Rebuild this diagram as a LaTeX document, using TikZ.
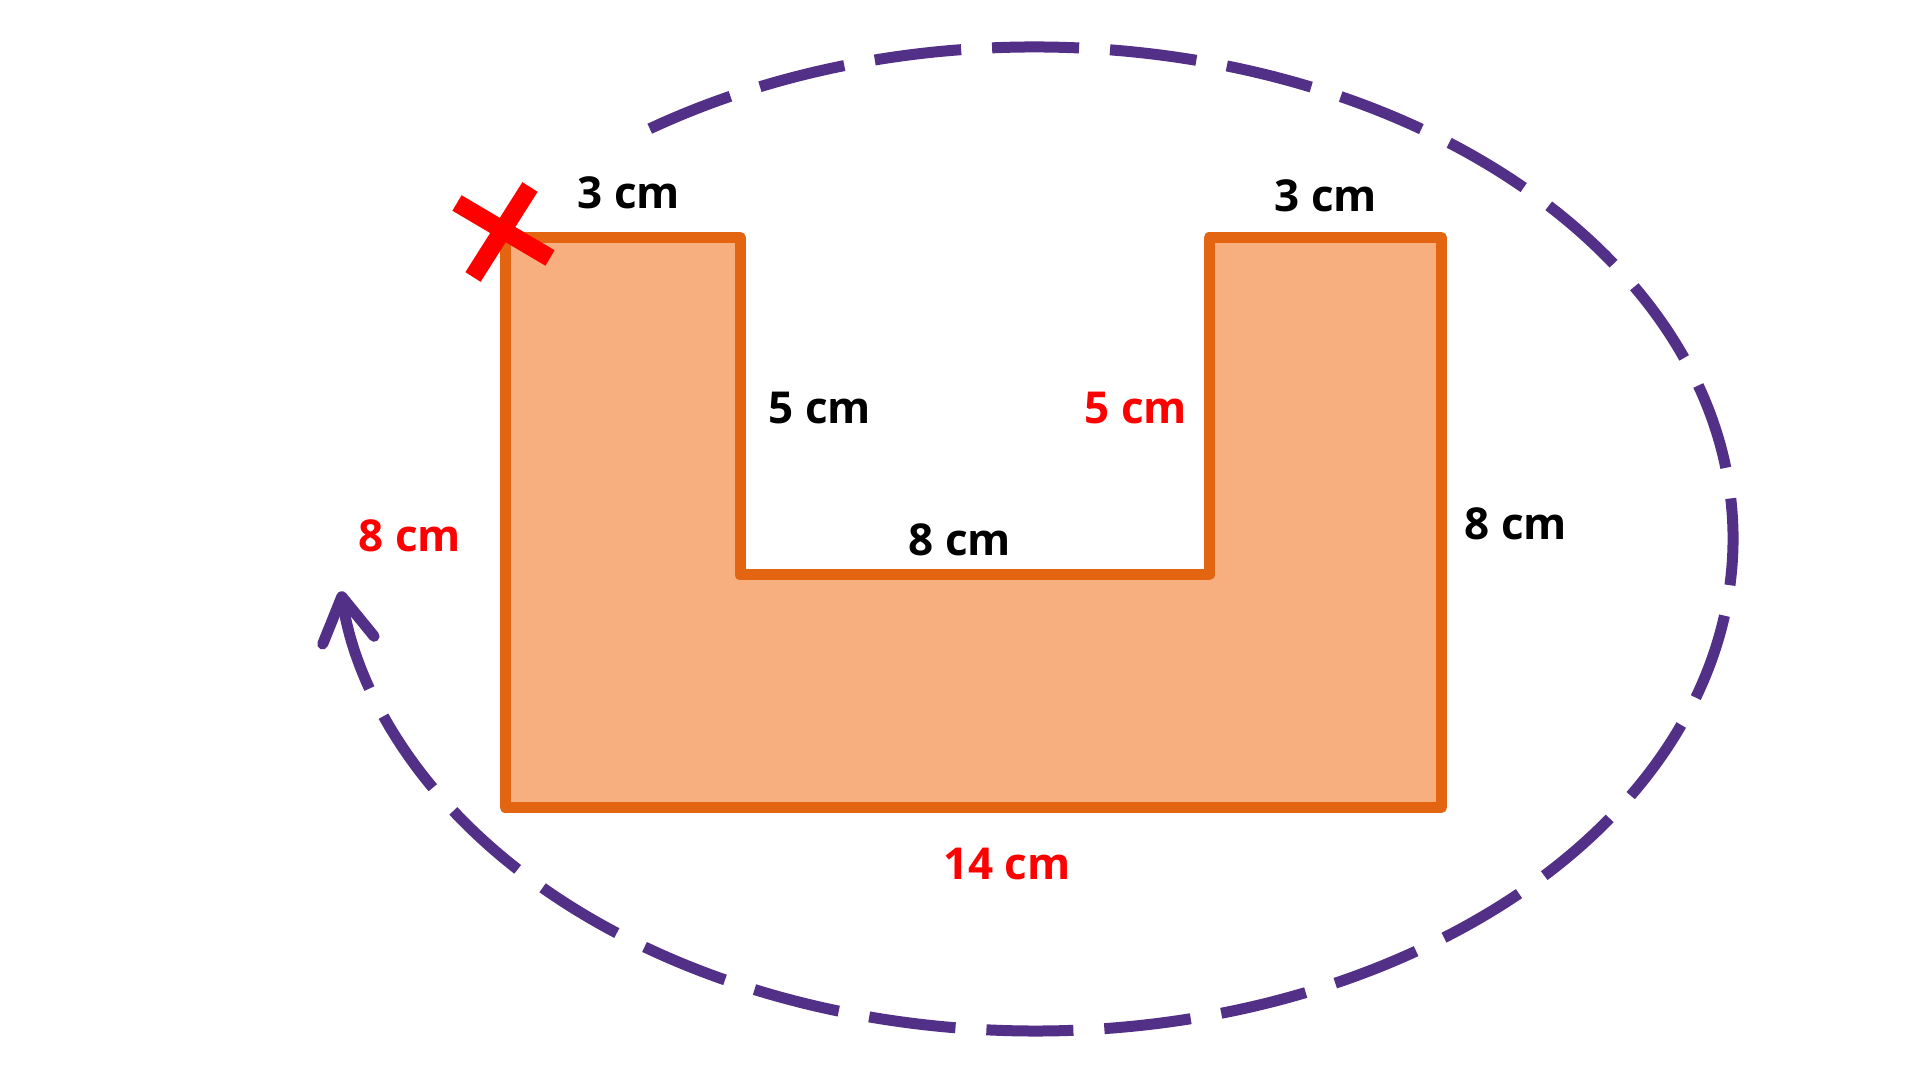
\documentclass[tikz,border=0pt]{standalone}
\usepackage{fontspec}
\setmainfont{Open Sans}
\usetikzlibrary{arrows.meta}
\definecolor{shapefill}{HTML}{F7AF7F}
\definecolor{shapeline}{HTML}{E46511}
\definecolor{loop}{HTML}{533087}
\definecolor{mark}{HTML}{FF0000}
\tikzset{
  lbl/.style={font=\fontsize{22}{26}\selectfont\bfseries, text=black, inner sep=0pt},
  redlbl/.style={lbl, text=mark},
  outline/.style={draw=shapeline, fill=shapefill, line width=5.5pt, line join=round},
  loopline/.style={draw=loop, line width=5.5pt, dash pattern=on 43.5pt off 15.5pt,
    -{Straight Barb[length=22pt, width=26pt, line cap=round, line join=round]}},
  cross/.style={draw=mark, line width=9pt}
}
\begin{document}
\begin{tikzpicture}[x=0.5pt, y=0.5pt]
\path[use as bounding box, fill=white] (0,0) rectangle (1920,1080);
% ellipse arc with arrow
\coordinate (c) at (1035,541);
\draw[loopline] ([shift={(123.5:698 and 492)}]c) arc[start angle=123.5, end angle=-173.9, x radius=698, y radius=492];
% U shape
\coordinate (tl) at (505,842.5);
\coordinate (il) at (740,842.5);
\coordinate (ilb) at (740,505);
\coordinate (irb) at (1209,505);
\coordinate (ir) at (1209,842.5);
\coordinate (tr) at (1441.5,842.5);
\coordinate (br) at (1441.5,272.5);
\coordinate (bl) at (505,272.5);
\path[outline] (tl) -- (il) -- (ilb) -- (irb) -- (ir) -- (tr) -- (br) -- (bl) -- cycle;
% cross
\coordinate (x1a) at (457,877);
\coordinate (x1b) at (550,822);
\coordinate (x2a) at (530,893);
\coordinate (x2b) at (473,803);
\draw[cross] (x1a) -- (x1b);
\draw[cross] (x2a) -- (x2b);
% labels
\node[lbl] (l1) at (629,887) {3 cm};
\node[lbl] (l2) at (1326,884) {3 cm};
\node[lbl] (l3) at (820,672) {5 cm};
\node[redlbl] (l4) at (1136,672) {5 cm};
\node[lbl] (l5) at (960,540) {8 cm};
\node[redlbl] (l6) at (410,544) {8 cm};
\node[lbl] (l7) at (1516,556) {8 cm};
\node[redlbl] (l8) at (1007,216) {14 cm};
\end{tikzpicture}
\end{document}
